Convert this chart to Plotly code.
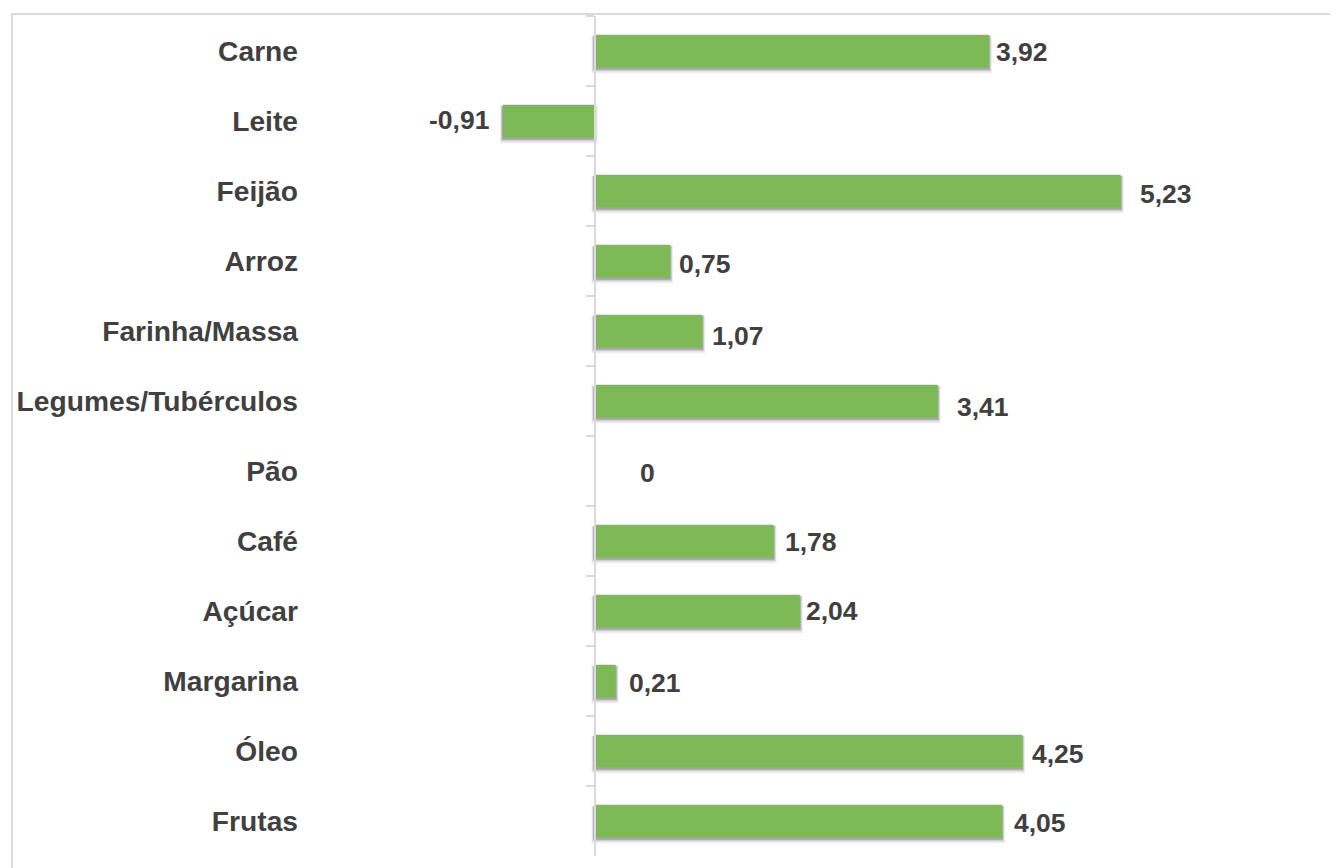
import plotly.graph_objects as go

# ---- data ----
categories = ["Carne", "Leite", "Feijão", "Arroz", "Farinha/Massa", "Legumes/Tubérculos",
              "Pão", "Café", "Açúcar", "Margarina", "Óleo", "Frutas"]
values = [3.92, -0.91, 5.23, 0.75, 1.07, 3.41, 0, 1.78, 2.04, 0.21, 4.25, 4.05]

# ---- label placement (style, pixels) ----
label_gap = [8, 15, 20, 10, 11, 20, 46, 12, 7, 14, 11, 13]
label_dy = [0.5, -1, 3, 3, 4.5, 5.5, 1.7, 1, 0, 1.5, 3, 2]


def fmt(v):
    if v == 0:
        return "0"
    return f"{v:.2f}".replace(".", ",")


# page has an 8px body margin: positions below are figure pixels
OFF = 8
W, H = 1338, 868
L, R, T, B = 302 - OFF, 21, 16 - OFF, 20
PX_PER_UNIT = 100.6
ZERO_PX = 594.5 - OFF
plot_w = W - L - R
plot_h = H - T - B
x0 = -(ZERO_PX - L) / PX_PER_UNIT
x1 = x0 + plot_w / PX_PER_UNIT
n = len(categories)
cat_px = plot_h / n
BW = 32.5 / cat_px

GREEN = "#7DB957"
TEXT = "#404040"
AXIS = "#d9d9d9"
FONT = "Liberation Sans"


def span(ext):
    base, length = [], []
    for v in values:
        if v == 0:
            base.append(None)
            length.append(None)
        elif v > 0:
            base.append(-ext)
            length.append(v + 2 * ext)
        else:
            base.append(ext)
            length.append(v - 2 * ext)
    return base, length


fig = go.Figure()

# layered soft shadow (style): (horizontal spread px, top shift px, bottom shift px, alpha)
shadow_layers = [(3, 1, 6, 0.07), (2, 1, 4, 0.13), (1, 1, 2.5, 0.2)]
for ext, top, bot, alpha in shadow_layers:
    b_s, l_s = span(ext / PX_PER_UNIT)
    fig.add_trace(go.Bar(
        y=categories, x=l_s, base=b_s, orientation="h",
        width=BW + (bot - top) / cat_px, offset=-BW / 2 + top / cat_px,
        marker=dict(color=f"rgba(0,0,0,{alpha})", line=dict(width=0)),
        hoverinfo="skip", showlegend=False))
# main bars
fig.add_trace(go.Bar(
    y=categories, x=values, orientation="h",
    width=BW, offset=-BW / 2,
    marker=dict(color=GREEN, line=dict(width=0)),
    showlegend=False))
# helper trace for the axis at zero
fig.add_trace(go.Scatter(
    x=[0] * n, y=categories, yaxis="y2", mode="markers",
    marker=dict(opacity=0), hoverinfo="skip", showlegend=False))

annotations = []
for i, (c, v) in enumerate(zip(categories, values)):
    pos = v >= 0
    annotations.append(dict(
        x=v, y=c, xref="x", yref="y", text=fmt(v), showarrow=False,
        xanchor="left" if pos else "right", yanchor="middle",
        xshift=(label_gap[i] - 3) if pos else -(label_gap[i] - 3),
        yshift=-label_dy[i],
        font=dict(family=FONT, size=26.5, color=TEXT, weight="bold")))

pos_zero = (0 - x0) / (x1 - x0)

fig.update_layout(
    width=W, height=H,
    margin=dict(l=L, r=R, t=T, b=B, autoexpand=False),
    paper_bgcolor="white", plot_bgcolor="white",
    barmode="overlay",
    xaxis=dict(range=[x0, x1], visible=False, fixedrange=True),
    yaxis=dict(
        categoryorder="array", categoryarray=categories,
        range=[n - 0.5, -0.5], showgrid=False, zeroline=False, showline=False,
        ticks="", ticklabelstandoff=3,
        tickfont=dict(family=FONT, size=28.2, color=TEXT, weight="bold"),
        fixedrange=True),
    yaxis2=dict(
        overlaying="y", anchor="free", position=pos_zero, side="left",
        categoryorder="array", categoryarray=categories,
        range=[n - 0.5, -0.5], showgrid=False, zeroline=False,
        showticklabels=False, ticks="outside", ticklen=8, tickwidth=2,
        tickcolor=AXIS, tickson="boundaries",
        showline=True, linecolor=AXIS, linewidth=2, fixedrange=True),
    annotations=annotations,
    shapes=[dict(
        type="rect", xref="paper", yref="paper",
        x0=(12 - OFF - L) / plot_w, x1=1.2,
        y0=-0.2, y1=(H - B - (14 - OFF)) / plot_h,
        line=dict(color=AXIS, width=2), fillcolor="rgba(0,0,0,0)", layer="below")],
)

fig.write_html("out.html")
